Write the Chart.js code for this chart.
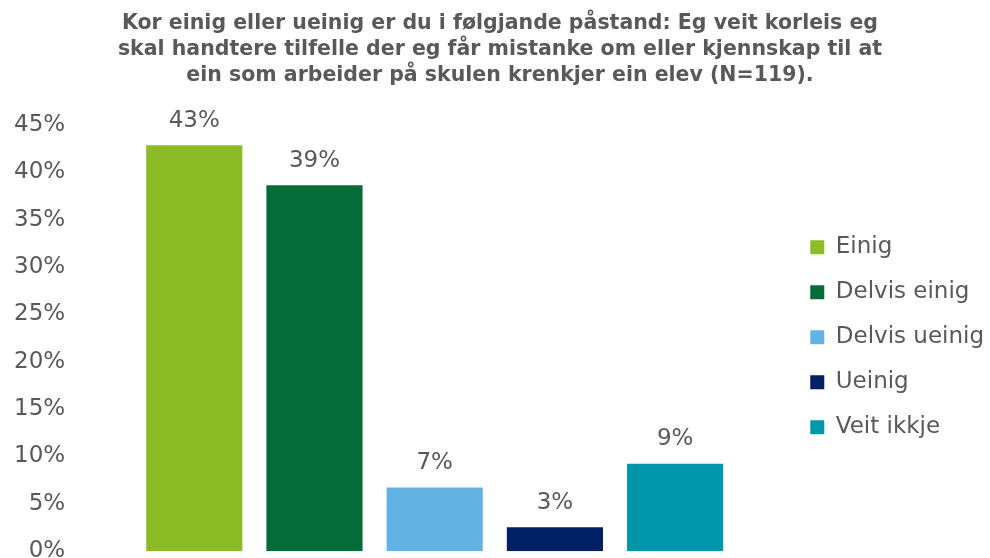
<!DOCTYPE html>
<html>
<head>
<meta charset="utf-8">
<script src="https://cdn.jsdelivr.net/npm/chart.js@4"></script>
<style>
  html, body { margin: 0; padding: 0; background: #fff; overflow: hidden; }
  #wrap { width: 990px; height: 573px; }
</style>
</head>
<body>
<div id="wrap"><canvas id="chart"></canvas></div>
<script>
// svar i prosent (N=119)
const categories = ['Einig', 'Delvis einig', 'Delvis ueinig', 'Ueinig', 'Veit ikkje'];
const values = [42.86, 38.66, 6.72, 2.52, 9.24];
const colors = ['#8BBC26', '#056B38', '#62B3E4', '#002066', '#0097AA'];
const yTicks = [0, 5, 10, 15, 20, 25, 30, 35, 40, 45];
const titleLines = [
    'Kor einig eller ueinig er du i følgjande påstand: Eg veit korleis eg',
    'skal handtere tilfelle der eg får mistanke om eller kjennskap til at',
    'ein som arbeider på skulen krenkjer ein elev (N=119).'
];

const textColor = '#595959';
const fontFamily = '"DejaVu Sans", Verdana, sans-serif';

// tekst over kvar søyle
const barLabels = {
    id: 'barLabels',
    afterDatasetsDraw(chart) {
        const ctx = chart.ctx;
        ctx.save();
        ctx.font = '23px ' + fontFamily;
        ctx.fillStyle = textColor;
        ctx.textAlign = 'center';
        ctx.textBaseline = 'bottom';
        chart.data.datasets.forEach(function(ds, i) {
            const meta = chart.getDatasetMeta(i);
            meta.data.forEach(function(bar, j) {
                ctx.fillText(Math.round(ds.data[j]) + '%', bar.x, bar.y - 13);
            });
        });
        ctx.restore();
    }
};

const ctx = document.getElementById('chart').getContext('2d');
const chart = new Chart(ctx, {
    type: 'bar',
    data: {
        labels: [''],
        datasets: categories.map(function(c, i) {
            return {
                label: c,
                data: [values[i]],
                backgroundColor: colors[i]
            };
        })
    },
    options: {
        responsive: true,
        maintainAspectRatio: false,
        animation: false,
        layout: { padding: { left: 6, right: -4, top: 0, bottom: 0 } },
        datasets: {
            bar: { categoryPercentage: 0.85, barPercentage: 0.8 }
        },
        scales: {
            x: { display: false },
            y: {
                min: 0,
                max: 45,
                afterBuildTicks: function(axis) {
                    axis.ticks = yTicks.map(function(v) { return { value: v }; });
                },
                grid: { display: false },
                border: { display: false },
                ticks: {
                    color: textColor,
                    font: { family: fontFamily, size: 23 },
                    padding: 8,
                    callback: function(v) { return v + '%'; }
                }
            }
        },
        plugins: {
            title: {
                display: true,
                text: titleLines,
                color: textColor,
                font: { family: fontFamily, size: 20.5, weight: 'bold', lineHeight: 1.27 },
                padding: { top: 11, bottom: 36 }
            },
            legend: {
                position: 'right',
                title: { display: true, text: ' ', padding: { top: 87, bottom: 0 } },
                labels: {
                    color: textColor,
                    font: { family: fontFamily, size: 23 },
                    boxWidth: 14,
                    boxHeight: 14,
                    padding: 22
                }
            },
            tooltip: { enabled: false }
        }
    },
    plugins: [barLabels]
});
</script>
</body>
</html>
